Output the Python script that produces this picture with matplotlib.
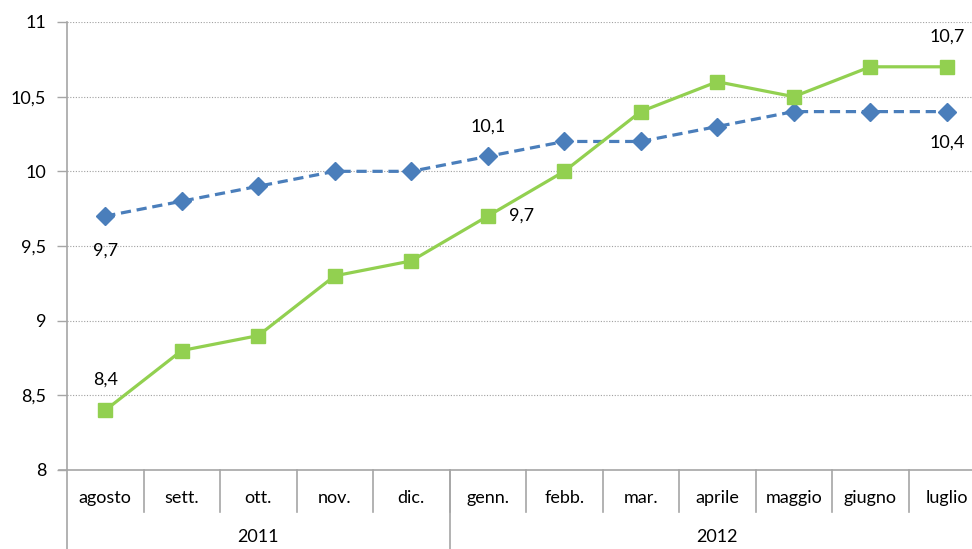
import numpy as np
import matplotlib.pyplot as plt

plt.rcParams['font.family'] = ['Lato', 'DejaVu Sans']

mesi = ["agosto", "sett.", "ott.", "nov.", "dic.", "genn.", "febb.", "mar.",
        "aprile", "maggio", "giugno", "luglio"]
anni = ["2011", "2012"]
mesi_per_anno = [5, 7]

blu = [9.7, 9.8, 9.9, 10.0, 10.0, 10.1, 10.2, 10.2, 10.3, 10.4, 10.4, 10.4]
verde = [8.4, 8.8, 8.9, 9.3, 9.4, 9.7, 10.0, 10.4, 10.6, 10.5, 10.7, 10.7]

yticks = [8, 8.5, 9, 9.5, 10, 10.5, 11]
yticks_text = ["8", "8,5", "9", "9,5", "10", "10,5", "11"]

c_blu = "#4A7EBB"
c_verde = "#92D050"
c_asse = "#A6A6A6"
fs = 13

fig = plt.figure(figsize=(9.72, 5.49), dpi=100)
# l'area del grafico va oltre il bordo destro (immagine ritagliata)
ax = fig.add_axes([67/972, 1 - 470/549, (985 - 67)/972, 448/549])

x = np.arange(len(mesi))
ax.plot(x, blu, "--", color=c_blu, lw=2.3, marker="D", markersize=9,
        dashes=(3.2, 1.8), zorder=3)
ax.plot(x, verde, "-", color=c_verde, lw=2.3, marker="s", markersize=9.5,
        zorder=4)

ax.set_xlim(-0.5, len(mesi) - 0.5)
ax.set_ylim(8, 11)
ax.set_yticks(yticks, yticks_text, fontsize=fs)
ax.tick_params(axis="y", length=7, color=c_asse, width=1, pad=8)
ax.set_xticks([])
for y in yticks[1:]:
    ax.axhline(y, color="#A0A0A0", lw=0.8, ls=(0, (1, 1.5)), zorder=1)

for s in ["top", "right"]:
    ax.spines[s].set_visible(False)
ax.spines["left"].set_color(c_asse)
ax.spines["bottom"].set_color(c_asse)
ax.spines["left"].set_linewidth(1.2)
ax.spines["bottom"].set_linewidth(1.2)

# tabella categorie sotto l'asse
tr = ax.get_xaxis_transform()
for k in range(len(mesi) - 1):
    ax.plot([k + 0.5, k + 0.5], [0, -0.094], color=c_asse, lw=1.2,
            transform=tr, clip_on=False)
ax.plot([4.5, 4.5], [0, -0.18], color=c_asse, lw=1.2, transform=tr, clip_on=False)
ax.plot([-0.5, -0.5], [0, -0.18], color=c_asse, lw=1.2, transform=tr, clip_on=False)
ax.plot([-0.5 - 0.1, -0.5], [0, 0], color=c_asse, lw=1.2, transform=tr, clip_on=False)

for i, m in enumerate(mesi):
    ax.text(i, -0.062, m, transform=tr, ha="center", va="center", fontsize=fs)
start = 0
for a, n in zip(anni, mesi_per_anno):
    ax.text(start + (n - 1) / 2, -0.15, a, transform=tr, ha="center",
            va="center", fontsize=fs)
    start += n

# etichette dati
def etichetta(i, serie, dx, dy):
    testo = f"{serie[i]:.1f}".replace(".", ",")
    ax.annotate(testo, (i, serie[i]), xytext=(dx, dy), textcoords="offset pixels",
                ha="center", va="center", fontsize=fs)

etichetta(0, blu, 0, -34)
etichetta(5, blu, 0, 30)
etichetta(11, blu, 0, -31)
etichetta(0, verde, 0, 31)
etichetta(5, verde, 34, 1)
etichetta(11, verde, 0, 30)

plt.savefig("out.png", dpi=100)
